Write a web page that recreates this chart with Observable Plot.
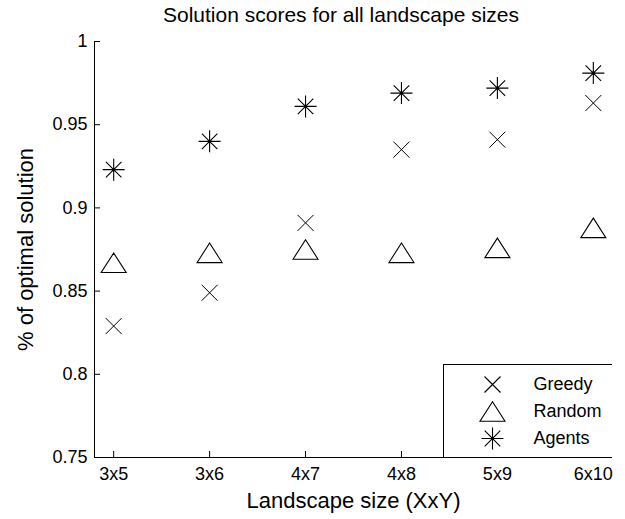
<!DOCTYPE html>
<html><head><meta charset="utf-8">
<script src="https://cdn.jsdelivr.net/npm/d3@7"></script>
<script src="https://cdn.jsdelivr.net/npm/@observablehq/plot@0.6"></script>
<style>
body{margin:0;background:#fff;font-family:"Liberation Sans",Arial,sans-serif;}
#wrap{position:relative;width:625px;height:519px;background:#fff;}
#title{height:30px;box-sizing:border-box;padding-left:94px;padding-right:37px;text-align:center;font-size:21px;line-height:29px;color:#000;white-space:nowrap;}
#legend{position:absolute;left:443px;top:364px;}
</style></head><body>
<div id="wrap"><div id="title">Solution scores for all landscape sizes</div><div id="chart"></div><div id="legend"></div></div>
<script>
const sizes = ["3x5","3x6","4x7","4x8","5x9","6x10"];
const greedy = [0.829,0.849,0.891,0.935,0.941,0.963];
const random = [0.867,0.873,0.875,0.873,0.876,0.888];
const agents = [0.923,0.940,0.961,0.969,0.972,0.981];
const yTicks = [0.75,0.8,0.85,0.9,0.95,1];
const yTickLabels = ["0.75","0.8","0.85","0.9","0.95","1"];
const seriesNames = ["Greedy","Random","Agents"];
const xTitle = "Landscape size (XxY)";
const yTitle = "% of optimal solution";

const rows = sizes.map((s,i)=>({size:s, pos:i+1, greedy:greedy[i], random:random[i], agents:agents[i]}));
const xTicks = sizes.map((s,i)=>i+1);

// MATLAB-like marker shapes
const timesSym = {draw(ctx,size){const r=Math.sqrt(size/Math.PI);ctx.moveTo(-r,-r);ctx.lineTo(r,r);ctx.moveTo(-r,r);ctx.lineTo(r,-r);}};
const triSym = {draw(ctx,size){const w=Math.sqrt(size/Math.PI);const h=w*0.78;ctx.moveTo(0,-h);ctx.lineTo(w,h);ctx.lineTo(-w,h);ctx.closePath();}};
const astSym = {draw(ctx,size){const r=Math.sqrt(size/Math.PI);const d=r/Math.SQRT2;ctx.moveTo(-r,0);ctx.lineTo(r,0);ctx.moveTo(0,-r);ctx.lineTo(0,r);ctx.moveTo(-d,-d);ctx.lineTo(d,d);ctx.moveTo(-d,d);ctx.lineTo(d,-d);}};
const symOf = {Greedy:timesSym, Random:triSym, Agents:astSym};
const rOf = {Greedy:8, Random:12.5, Agents:11};

const font = '"Liberation Sans", Arial, sans-serif';

const chart = Plot.plot({
  width:625, height:489,
  marginTop:11, marginBottom:62, marginLeft:94, marginRight:13,
  style:{fontFamily:font, fontSize:"18px", color:"black", background:"white", overflow:"visible"},
  x:{type:"linear", domain:[0.8,6.2]},
  y:{domain:[0.75,1]},
  marks:[
    Plot.axisX({ticks:xTicks, tickFormat:d=>sizes[d-1], tickSize:0, tickPadding:10, label:null, fontSize:18}),
    Plot.axisX({ticks:xTicks, tickFormat:()=>"", tickSize:-6, label:null}),
    Plot.axisY({ticks:yTicks, tickFormat:d=>yTickLabels[yTicks.indexOf(d)], tickSize:0, tickPadding:7, label:null, fontSize:18}),
    Plot.axisY({ticks:yTicks, tickFormat:()=>"", tickSize:-6, label:null}),
    Plot.ruleX([0.8], {stroke:"black"}),
    Plot.ruleY([0.75], {stroke:"black"}),
    Plot.dot(rows, {x:"pos", y:"greedy", symbol:timesSym, r:rOf.Greedy, stroke:"black", fill:"none", strokeWidth:1}),
    Plot.dot(rows, {x:"pos", y:"random", symbol:triSym, r:rOf.Random, stroke:"black", fill:"none", strokeWidth:1.1}),
    Plot.dot(rows, {x:"pos", y:"agents", symbol:astSym, r:rOf.Agents, stroke:"black", fill:"none", strokeWidth:1.1}),
    Plot.dot(rows, {x:"pos", y:"agents", r:1.6, fill:"black"}),
    Plot.text([xTitle], {text:d=>d, frameAnchor:"bottom", dy:43, lineAnchor:"middle", textAnchor:"middle", fontSize:22}),
    Plot.text([yTitle], {text:d=>d, frameAnchor:"left", dx:-69, rotate:-90, lineAnchor:"middle", textAnchor:"middle", fontSize:22})
  ]
});
document.getElementById("chart").appendChild(chart);

const legend = Plot.plot({
  width:169, height:93, margin:0,
  style:{fontFamily:font, fontSize:"18px", color:"black", background:"white"},
  y:{type:"point", domain:seriesNames, range:[19,74], padding:0, axis:null},
  marks:[
    Plot.frame({stroke:"black"}),
    ...seriesNames.map(n=>Plot.dot([n], {y:d=>d, symbol:symOf[n], r:rOf[n], frameAnchor:"left", dx:49, stroke:"black", fill:"none", strokeWidth:1.1})),
    Plot.dot(["Agents"], {y:d=>d, frameAnchor:"left", dx:49, r:1.6, fill:"black"}),
    Plot.text(seriesNames, {y:d=>d, text:d=>d, frameAnchor:"left", dx:90, textAnchor:"start", fontSize:18})
  ]
});
document.getElementById("legend").appendChild(legend);
</script>
</body></html>
